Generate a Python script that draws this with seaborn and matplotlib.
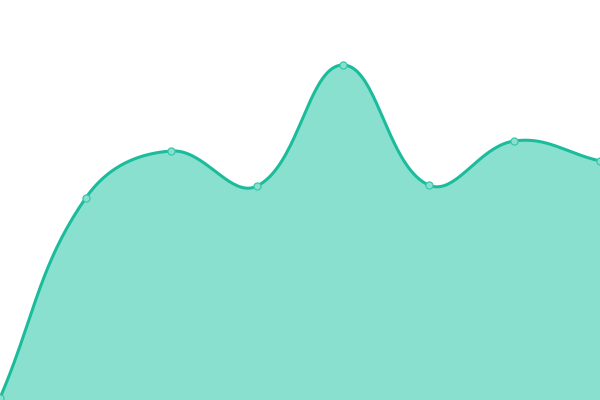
import numpy as np
import pandas as pd
import matplotlib
matplotlib.use("Agg")
import matplotlib.pyplot as plt
import seaborn as sns

categories = ["A", "B", "C", "D", "E", "F", "G", "H"]
values = [2, 202, 249, 214, 335, 215, 259, 239]

LINE = "#1abc9c"
FILL = "#8ae0cf"
MARK_EDGE = "#3cc6aa"


def smooth_path(xs, ys, tension=0.4, n=40, lo=(0, 0), hi=(600, 400)):
    # cardinal-style Bezier smoothing of the series line (rendering only)
    pts = np.column_stack([xs, ys]).astype(float)
    m = len(pts)
    lo = np.array(lo, float)
    hi = np.array(hi, float)
    cps = []
    for i in range(m):
        p = pts[i]
        prev = pts[i - 1] if i > 0 else p
        nxt = pts[i + 1] if i < m - 1 else p
        d01 = np.hypot(*(p - prev))
        d12 = np.hypot(*(nxt - p))
        s = d01 + d12
        s01 = d01 / s if s else 0
        s12 = d12 / s if s else 0
        v = nxt - prev
        c0 = np.clip(p - tension * s01 * v, lo, hi)
        c1 = np.clip(p + tension * s12 * v, lo, hi)
        cps.append((c0, c1))
    out = []
    t = np.linspace(0, 1, n)[:, None]
    for i in range(m - 1):
        p0 = pts[i]
        c1 = cps[i][1]
        c2 = cps[i + 1][0]
        p3 = pts[i + 1]
        seg = ((1 - t) ** 3) * p0 + 3 * ((1 - t) ** 2) * t * c1 + 3 * (1 - t) * t ** 2 * c2 + t ** 3 * p3
        out.append(seg if i == 0 else seg[1:])
    return np.vstack(out)


W, H = 600, 400
x_idx = np.arange(len(categories))
step = W / (len(categories) - 1)
px = x_idx * step
py = np.array(values, dtype=float)
curve = smooth_path(px, py)
cx = curve[:, 0] / step
cy = curve[:, 1]

fig = plt.figure(figsize=(6, 4), dpi=100)
ax = fig.add_axes([0, 0, 1, 1])
ax.fill_between(cx, cy, 0, color=FILL, linewidth=0)
sns.lineplot(x=cx, y=cy, ax=ax, color=LINE, linewidth=2.2, sort=False)
sns.scatterplot(x=x_idx, y=values, ax=ax, s=26, color=FILL, edgecolor=MARK_EDGE,
                linewidth=0.9, zorder=5)
ax.set_xlim(0, len(categories) - 1)
ax.set_ylim(0, 400)
ax.axis("off")
fig.savefig("out.png", dpi=100)
